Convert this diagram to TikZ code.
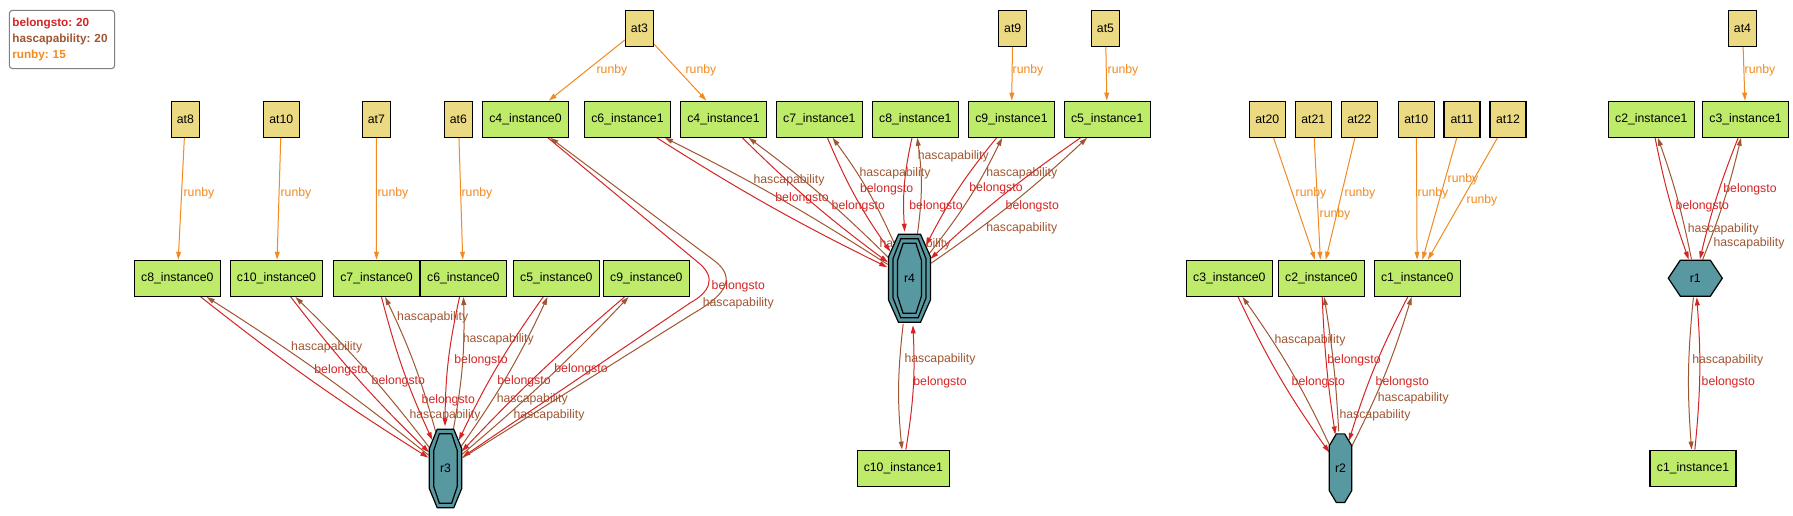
\documentclass[tikz,border=0pt]{standalone}
\usepackage{fontspec}
\setmainfont{Liberation Sans}
\usetikzlibrary{arrows.meta,shapes.geometric,calc}
\definecolor{belcol}{RGB}{214,36,36}
\definecolor{hccol}{RGB}{160,86,50}
\definecolor{rbcol}{RGB}{242,138,32}
\definecolor{atfill}{RGB}{236,218,130}
\definecolor{instfill}{RGB}{190,236,106}
\definecolor{rfill}{RGB}{88,152,160}
\definecolor{legcol}{RGB}{128,128,128}
\pgfdeclarelayer{bg}
\pgfsetlayers{bg,main}
\frenchspacing
\tikzset{
  base/.style={font=\fontsize{9.2}{11}\selectfont, inner sep=0pt, line width=0.9pt, draw=black},
  atbox/.style={base, fill=atfill, minimum height=27pt, minimum width=21pt},
  atwide/.style={atbox, minimum width=27pt},
  inst/.style={base, fill=instfill, minimum height=27pt, minimum width=64.5pt},
  instw/.style={inst, minimum width=69pt},
  rnode/.style={ellipse, inner sep=0pt, font=\fontsize{9.2}{11}\selectfont, draw=none},
  rpoly/.style={draw=black, line width=0.9pt, fill=rfill, line join=miter},
  rline/.style={draw=black, line width=0.9pt},
  conn/.style={line width=0.75pt, -{Triangle[length=6pt,width=3.6pt]}},
  bel/.style={conn, draw=belcol},
  hc/.style={conn, draw=hccol},
  rb/.style={conn, draw=rbcol},
  lb/.style={font=\fontsize{9.2}{11}\selectfont, inner sep=0pt},
  lbel/.style={lb, text=belcol},
  lhc/.style={lb, text=hccol},
  lrb/.style={lb, text=rbcol},
}
\begin{document}
\begin{tikzpicture}[x=0.75pt,y=-0.75pt]
\useasboundingbox (0,0) rectangle (1793,516);

% legend
\node[draw=legcol, line width=0.8pt, rounded corners=2.5pt, fill=white, minimum width=79pt, minimum height=43.8pt, text width=74.5pt, align=left, inner sep=2.25pt, font=\frenchspacing\bfseries\fontsize{8.8}{12}\selectfont] (legend) at (62,39.5) {\textcolor{belcol}{belongsto: 20}\\ \textcolor{hccol}{hascapability: 20}\\ \textcolor{rbcol}{runby: 15}};

% attribute nodes
\node[atbox] (at3) at (639.5,28.3) {at3};
\node[atbox] (at9) at (1012.7,28.3) {at9};
\node[atbox] (at5) at (1105.5,28.3) {at5};
\node[atbox] (at4) at (1742.5,28.3) {at4};
\node[atbox] (at8) at (185.3,119.3) {at8};
\node[atwide] (at10a) at (281.3,119.3) {at10};
\node[atbox] (at7) at (376.3,119.3) {at7};
\node[atbox] (at6) at (458.4,119.3) {at6};
\node[atwide] (at20) at (1267.3,119.3) {at20};
\node[atwide] (at21) at (1313.3,119.3) {at21};
\node[atwide] (at22) at (1359.3,119.3) {at22};
\node[atwide] (at10b) at (1416.3,119.3) {at10};
\node[atwide] (at11) at (1462,119.3) {at11};
\node[atwide] (at12) at (1508,119.3) {at12};

% instance nodes row 1
\node[inst] (c4i0) at (525.5,119.2) {c4\_instance0};
\node[inst] (c6i1) at (627.5,119.2) {c6\_instance1};
\node[inst] (c4i1) at (723.5,119.2) {c4\_instance1};
\node[inst] (c7i1) at (819.3,119.2) {c7\_instance1};
\node[inst] (c8i1) at (915.3,119.2) {c8\_instance1};
\node[inst] (c9i1) at (1011.5,119.2) {c9\_instance1};
\node[inst] (c5i1) at (1107.2,119.2) {c5\_instance1};
\node[inst] (c2i1) at (1651.3,119.2) {c2\_instance1};
\node[inst] (c3i1) at (1745.5,119.2) {c3\_instance1};
% row 2
\node[inst] (c8i0) at (177.3,278.4) {c8\_instance0};
\node[instw] (c10i0) at (276.5,278.4) {c10\_instance0};
\node[inst] (c7i0) at (376.5,278.4) {c7\_instance0};
\node[inst] (c6i0) at (463.3,278.4) {c6\_instance0};
\node[inst] (c5i0) at (556.3,278.4) {c5\_instance0};
\node[inst] (c9i0) at (646.3,278.4) {c9\_instance0};
\node[inst] (c3i0) at (1229.3,278.4) {c3\_instance0};
\node[inst] (c2i0) at (1321.3,278.4) {c2\_instance0};
\node[inst] (c1i0) at (1417.2,278.4) {c1\_instance0};
% bottom
\node[instw] (c10i1) at (903.3,468.2) {c10\_instance1};
\node[inst] (c1i1) at (1693,468.2) {c1\_instance1};

% r3: double octagon
\draw[rpoly, shift={(445.5,468.5)}] (-8.3,-39.2) -- (8.3,-39.2) -- (16.2,-20) -- (16.2,20) -- (8.3,39.2) -- (-8.3,39.2) -- (-16.2,20) -- (-16.2,-20) -- cycle;
\draw[rline, shift={(445.5,468.5)}] (-6.2,-34.7) -- (6.2,-34.7) -- (11.7,-18.2) -- (11.7,18.2) -- (6.2,34.7) -- (-6.2,34.7) -- (-11.7,18.2) -- (-11.7,-18.2) -- cycle;
\node[rnode, minimum width=26.25pt, minimum height=63pt] (r3) at (445.5,468.5) {r3};
% r4: triple octagon
\draw[rpoly, shift={(909.5,278.3)}] (-11,-44) -- (11,-44) -- (21,-21.5) -- (21,21.5) -- (11,44) -- (-11,44) -- (-21,21.5) -- (-21,-21.5) -- cycle;
\draw[rline, shift={(909.5,278.3)}] (-8.7,-39.5) -- (8.7,-39.5) -- (16.5,-19.6) -- (16.5,19.6) -- (8.7,39.5) -- (-8.7,39.5) -- (-16.5,19.6) -- (-16.5,-19.6) -- cycle;
\draw[rline, shift={(909.5,278.3)}] (-6.4,-35) -- (6.4,-35) -- (12,-17.7) -- (12,17.7) -- (6.4,35) -- (-6.4,35) -- (-12,17.7) -- (-12,-17.7) -- cycle;
\node[rnode, minimum width=34pt, minimum height=71pt] (r4) at (909.5,278.3) {r4};
% r2: octagon
\draw[rpoly, shift={(1340.5,468.2)}] (-4.2,-34.3) -- (4.2,-34.3) -- (11.2,-22.5) -- (11.2,22.5) -- (4.2,34.3) -- (-4.2,34.3) -- (-11.2,22.5) -- (-11.2,-22.5) -- cycle;
\node[rnode, minimum width=18pt, minimum height=55.5pt] (r2) at (1340.5,468.2) {r2};
% r1: hexagon
\draw[rpoly, shift={(1695.3,278.2)}] (-27,0) -- (-15,-18) -- (15,-18) -- (27,0) -- (15,18) -- (-15,18) -- cycle;
\node[rnode, minimum width=40.5pt, minimum height=28.5pt] (r1) at (1695.3,278.2) {r1};

\begin{pgfonlayer}{bg}
\fill[white] (0,0) rectangle (1793,516);
% runby
\draw[rb] (at8) -- (c8i0) node[lrb] at (199,193.7) {runby};
\draw[rb] (at10a) -- (c10i0) node[lrb] at (296,193.7) {runby};
\draw[rb] (at7) -- (c7i0) node[lrb] at (393,193.7) {runby};
\draw[rb] (at6) -- (c6i0) node[lrb] at (477,193.7) {runby};
\draw[rb] (at3) -- (c4i0) node[lrb] at (612,70.7) {runby};
\draw[rb] (at3) -- (c4i1) node[lrb] at (701,70.7) {runby};
\draw[rb] (at9) -- (c9i1) node[lrb] at (1028,70.7) {runby};
\draw[rb] (at5) -- (c5i1) node[lrb] at (1123,70.7) {runby};
\draw[rb] (at4) -- (c3i1) node[lrb] at (1760,70.7) {runby};
\draw[rb] (at20) -- (c2i0) node[lrb] at (1311,193.7) {runby};
\draw[rb] (at21) -- (c2i0) node[lrb] at (1335,214.7) {runby};
\draw[rb] (at22) -- (c2i0) node[lrb] at (1360,193.7) {runby};
\draw[rb] (at10b) -- (c1i0) node[lrb] at (1433,193.7) {runby};
\draw[rb] (at11) -- (c1i0) node[lrb] at (1463,179.3) {runby};
\draw[rb] (at12) -- (c1i0) node[lrb] at (1482,200) {runby};

% r3 group
\draw[bel] (c8i0) to[bend right=3] (r3) node[lbel] at (341,370) {belongsto};
\draw[hc] (r3) to[bend right=3] (c8i0) node[lhc] at (326.7,347.7) {hascapability};
\draw[bel] (c10i0) to[bend right=4] (r3) node[lbel] at (398.3,381.7) {belongsto};
\draw[hc] (r3) to[bend right=4] (c10i0) node[lhc] at (445,415.7) {hascapability};
\draw[bel] (c7i0) to[bend right=5] (r3) node[lbel] at (448.3,400) {belongsto};
\draw[hc] (r3) to[bend right=5] (c7i0) node[lhc] at (432.7,317.7) {hascapability};
\draw[bel] (c6i0) to[bend right=6] (r3) node[lbel] at (481,360) {belongsto};
\draw[hc] (r3) to[bend right=6] (c6i0) node[lhc] at (498.3,339.3) {hascapability};
\draw[bel] (c5i0) to[bend right=5] (r3) node[lbel] at (524,381.7) {belongsto};
\draw[hc] (r3) to[bend right=5] (c5i0) node[lhc] at (532.3,399) {hascapability};
\draw[bel] (c9i0) to[bend right=3] (r3) node[lbel] at (581,369.3) {belongsto};
\draw[hc] (r3) to[bend right=3] (c9i0) node[lhc] at (549,415.7) {hascapability};
\draw[bel] (c4i0) -- (700,264) .. controls (716,278) and (710,292) .. (690,303) -- (r3) node[lbel] at (738.3,286.7) {belongsto};
\draw[hc] (r3) -- (694,313) .. controls (729,293) and (734,277) .. (716,262) -- (c4i0) node[lhc] at (738.3,303.7) {hascapability};

% r4 group
\draw[bel] (c6i1) to[bend right=3] (r4) node[lbel] at (802,198) {belongsto};
\draw[hc] (r4) to[bend right=3] (c6i1) node[lhc] at (789,180) {hascapability};
\draw[bel] (c4i1) to[bend right=4] (r4) node[lbel] at (858.3,206.7) {belongsto};
\draw[hc] (r4) to[bend right=4] (c4i1) node[lhc] at (915,244) {hascapability};
\draw[bel] (c7i1) to[bend right=6] (r4) node[lbel] at (886.7,189) {belongsto};
\draw[hc] (r4) to[bend right=6] (c7i1) node[lhc] at (895,173.3) {hascapability};
\draw[bel] (c8i1) to[bend right=8] (r4) node[lbel] at (936,206.7) {belongsto};
\draw[hc] (r4) to[bend right=8] (c8i1) node[lhc] at (953.3,156.7) {hascapability};
\draw[bel] (c9i1) to[bend right=6] (r4) node[lbel] at (996,188.3) {belongsto};
\draw[hc] (r4) to[bend right=6] (c9i1) node[lhc] at (1021.7,173.3) {hascapability};
\draw[bel] (c5i1) to[bend right=4] (r4) node[lbel] at (1032.3,206.7) {belongsto};
\draw[hc] (r4) to[bend right=4] (c5i1) node[lhc] at (1021.7,228.7) {hascapability};
\draw[bel] (c10i1) to[bend right=6] (r4) node[lbel] at (940,382) {belongsto};
\draw[hc] (r4) to[bend right=6] (c10i1) node[lhc] at (940,359.3) {hascapability};

% r2 group
\draw[bel] (c3i0) to[bend right=5] (r2) node[lbel] at (1318.3,382) {belongsto};
\draw[hc] (r2) to[bend right=5] (c3i0) node[lhc] at (1310,340) {hascapability};
\draw[bel] (c2i0) to[bend right=3] (r2) node[lbel] at (1354,360) {belongsto};
\draw[hc] (r2) to[bend right=3] (c2i0) node[lhc] at (1375,415.7) {hascapability};
\draw[bel] (c1i0) to[bend right=5] (r2) node[lbel] at (1402.3,382) {belongsto};
\draw[hc] (r2) to[bend right=5] (c1i0) node[lhc] at (1413.3,398.3) {hascapability};

% r1 group
\draw[bel] (c2i1) to[bend right=4] (r1) node[lbel] at (1702.3,206.7) {belongsto};
\draw[hc] (r1) to[bend right=4] (c2i1) node[lhc] at (1723.3,229) {hascapability};
\draw[bel] (c3i1) to[bend right=4] (r1) node[lbel] at (1750,189) {belongsto};
\draw[hc] (r1) to[bend right=4] (c3i1) node[lhc] at (1749,243.7) {hascapability};
\draw[bel] (c1i1) to[bend right=5] (r1) node[lbel] at (1728.3,382) {belongsto};
\draw[hc] (r1) to[bend right=5] (c1i1) node[lhc] at (1727.7,360) {hascapability};
\end{pgfonlayer}
\end{tikzpicture}
\end{document}
